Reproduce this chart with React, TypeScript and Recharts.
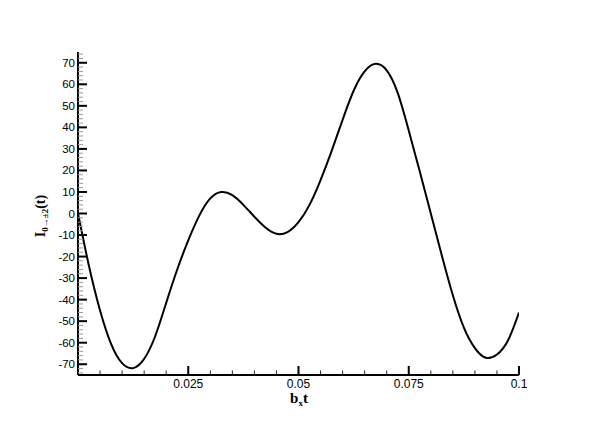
import React from 'react';
import { LineChart, Line, XAxis, YAxis, Label } from 'recharts';

const tValues = [
  0, 0.0025, 0.005, 0.0075, 0.01, 0.0125, 0.015, 0.0175, 0.02, 0.0225, 0.025,
  0.0275, 0.03, 0.0325, 0.035, 0.0375, 0.04, 0.0425, 0.045, 0.0475, 0.05,
  0.0525, 0.055, 0.0575, 0.06, 0.0625, 0.065, 0.0675, 0.07, 0.0725, 0.075,
  0.0775, 0.08, 0.0825, 0.085, 0.0875, 0.09, 0.0925, 0.095, 0.0975, 0.1,
];
const iValues = [
  0, -24.5, -45, -60.5, -69.5, -71.8, -67.5, -57, -41.5, -26, -12.5,
  -1, 7, 10, 8.5, 4, -1.5, -6.5, -9.4, -8.6, -4,
  4, 15.5, 29, 43.5, 57, 66, 69.5, 66.5, 56, 38.5,
  19.5, 0, -19.5, -38, -53, -62.5, -67, -65.5, -59, -46,
];

const xMajorTicks = [0.025, 0.05, 0.075, 0.1];
const xMajorLabels = ['0.025', '0.05', '0.075', '0.1'];
const xMinorTicks = [
  0.005, 0.01, 0.015, 0.02, 0.03, 0.035, 0.04, 0.045, 0.055, 0.06, 0.065, 0.07,
  0.08, 0.085, 0.09, 0.095,
];
const yMajorTicks = [-70, -60, -50, -40, -30, -20, -10, 0, 10, 20, 30, 40, 50, 60, 70];
const yMinorTicks: number[] = [];
for (let v = -74; v <= 74; v += 2) {
  if (v % 10 !== 0) yMinorTicks.push(v);
}

const data = tValues.map((t, i) => ({ t, v: iValues[i] }));
const xTicks = [...xMajorTicks, ...xMinorTicks].sort((a, b) => a - b);
const yTicks = [...yMajorTicks, ...yMinorTicks].sort((a, b) => a - b);

const isMajorY = (v: number) => yMajorTicks.includes(v);

const XTick = (props: any) => {
  const { x, payload } = props;
  const y = 375;
  const val = payload.value as number;
  const idx = xMajorTicks.findIndex((m) => Math.abs(m - val) < 1e-9);
  if (idx >= 0) {
    return (
      <g>
        <line x1={x} x2={x} y1={y} y2={y - 9} stroke="#000" strokeWidth={2} />
        <text
          x={x}
          y={y + 13}
          textAnchor="middle"
          fontFamily="'Liberation Sans', Arial, sans-serif"
          fontSize={12}
          fill="#000"
        >
          {xMajorLabels[idx]}
        </text>
      </g>
    );
  }
  return <line x1={x} x2={x} y1={y} y2={y - 4.5} stroke="#222" strokeWidth={1} />;
};

const YTick = (props: any) => {
  const { y, payload } = props;
  const x = 78;
  const val = payload.value as number;
  if (isMajorY(val)) {
    return (
      <g>
        <line x1={x} x2={x + 9} y1={y} y2={y} stroke="#000" strokeWidth={2} />
        <text
          x={x - 3}
          y={y + 4}
          textAnchor="end"
          fontFamily="'Liberation Sans', Arial, sans-serif"
          fontSize={11.5}
          fill="#000"
        >
          {val}
        </text>
      </g>
    );
  }
  return <line x1={x} x2={x + 5} y1={y} y2={y} stroke="#999" strokeWidth={1} />;
};

const YTitle = () => (
  <text
    x={45}
    y={216}
    transform="rotate(-90, 45, 216)"
    textAnchor="middle"
    fontFamily="'Liberation Serif', 'Times New Roman', serif"
    fontWeight="bold"
    fontSize={14}
    fill="#000"
  >
    <tspan>I</tspan>
    <tspan fontSize={9} dy={3}>0→±2</tspan>
    <tspan dy={-3}>(t)</tspan>
  </text>
);

const XTitle = () => (
  <text
    x={299}
    y={403}
    textAnchor="middle"
    fontFamily="'Liberation Serif', 'Times New Roman', serif"
    fontWeight="bold"
    fontSize={15}
    fill="#000"
  >
    <tspan>b</tspan>
    <tspan fontSize={9} dy={3}>x</tspan>
    <tspan dy={-3}>t</tspan>
  </text>
);

export default function App() {
  return (
    <div style={{ position: 'absolute', left: 0, top: 0, width: 591, height: 423, background: '#fff' }}>
      <LineChart
        width={591}
        height={423}
        data={data}
        margin={{ top: 52, right: 72, bottom: 28, left: 48 }}
      >
        <XAxis
          dataKey="t"
          type="number"
          domain={[0, 0.1]}
          ticks={xTicks}
          interval={0}
          height={20}
          tickSize={0}
          tickMargin={0}
          tickLine={false}
          tick={<XTick />}
          axisLine={{ stroke: '#000', strokeWidth: 2 }}
          allowDataOverflow
        >
          <Label content={<XTitle />} />
        </XAxis>
        <YAxis
          type="number"
          domain={[-75, 75]}
          ticks={yTicks}
          interval={0}
          width={30}
          tickSize={0}
          tickMargin={0}
          tickLine={false}
          tick={<YTick />}
          axisLine={{ stroke: '#000', strokeWidth: 2 }}
          allowDataOverflow
        >
          <Label content={<YTitle />} />
        </YAxis>
        <Line
          type="natural"
          dataKey="v"
          stroke="#000"
          strokeWidth={2}
          dot={false}
          isAnimationActive={false}
        />
      </LineChart>
    </div>
  );
}
